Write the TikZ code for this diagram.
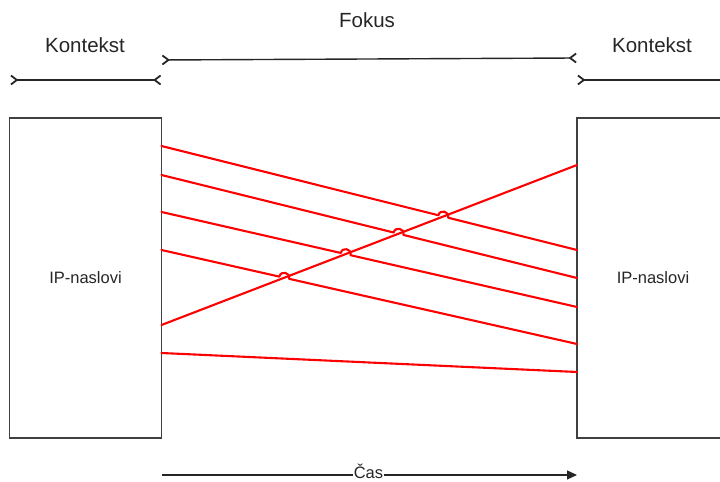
\documentclass[tikz,border=0pt]{standalone}
\usepackage{fontspec}
\setmainfont{Liberation Sans}
\usetikzlibrary{arrows.meta,calc}
\begin{document}
\begin{tikzpicture}[x=1bp,y=1bp,
  box/.style={draw=black!75,line width=1.3bp,fill=white,minimum width=152bp,minimum height=320bp,inner sep=0pt,
    font=\fontsize{16.5bp}{20bp}\selectfont,text=black!85},
  lbl/.style={inner sep=0pt,font=\fontsize{20.5bp}{24bp}\selectfont,text=black!85},
  barbtip/.tip={Straight Barb[reversed,length=6bp,width=9bp,line width=1.8bp]},
  span/.style={draw=black!85,line width=1.4bp,{barbtip}-{barbtip}},
  time/.style={draw=black!85,line width=1.2bp,-{Triangle[length=10bp,width=9bp]}},
  red/.style={draw=red,line width=2.1bp,line cap=round,line join=round},
  jump/.style={looseness=1.7}]
\useasboundingbox (0,0) rectangle (720,482);
% boxes
\node[box] (L) at (85.5,204) {IP-naslovi};
\node[box] (R) at (653,204) {IP-naslovi};
% top labels
\node[lbl] (kl) at (85,437) {Kontekst};
\node[lbl] (fk) at (367,462) {Fokus};
\node[lbl] (kr) at (652,437) {Kontekst};
% span arrows
\coordinate (a1) at (10,402);
\coordinate (a2) at (161.5,402);
\coordinate (f1) at (161.5,422);
\coordinate (f2) at (577,424);
\coordinate (b1) at (577,402);
\coordinate (b2) at (740,402);
\draw[span] (a1) -- (a2);
\draw[span] (f1) -- (f2);
\draw[span] (b1) -- (b2);
% time arrow
\coordinate (t1) at (161.5,7);
\coordinate (t2) at (577,7);
\draw[time] (t1) -- (t2);
\node[anchor=base,fill=white,inner xsep=1pt,inner ysep=0pt,font=\fontsize{16.5bp}{20bp}\selectfont,text=black!85] (cas) at (368.5,3) {Čas};
% red connection endpoints
\coordinate (l1) at (161.5,336);
\coordinate (l2) at (161.5,307);
\coordinate (l3) at (161.5,270);
\coordinate (l4) at (161.5,232);
\coordinate (l5) at (161.5,157);
\coordinate (l6) at (161.5,129);
\coordinate (r1) at (577,232);
\coordinate (r2) at (577,204);
\coordinate (r3) at (577,175);
\coordinate (r4) at (577,138);
\coordinate (r5) at (577,317);
\coordinate (r6) at (577,110);
% crossing points
\coordinate (x1) at (intersection of l1--r1 and l5--r5);
\coordinate (x2) at (intersection of l2--r2 and l5--r5);
\coordinate (x3) at (intersection of l3--r3 and l5--r5);
\coordinate (x4) at (intersection of l4--r4 and l5--r5);
\draw[red] (l5) -- (r5);
\draw[red] (l1) -- ($(x1)!5bp!(l1)$) to[out=76,in=76,jump] ($(x1)!5bp!(r1)$) -- (r1);
\draw[red] (l2) -- ($(x2)!5bp!(l2)$) to[out=76,in=76,jump] ($(x2)!5bp!(r2)$) -- (r2);
\draw[red] (l3) -- ($(x3)!5bp!(l3)$) to[out=77,in=77,jump] ($(x3)!5bp!(r3)$) -- (r3);
\draw[red] (l4) -- ($(x4)!5bp!(l4)$) to[out=77,in=77,jump] ($(x4)!5bp!(r4)$) -- (r4);
\draw[red] (l6) -- (r6);
\end{tikzpicture}
\end{document}
